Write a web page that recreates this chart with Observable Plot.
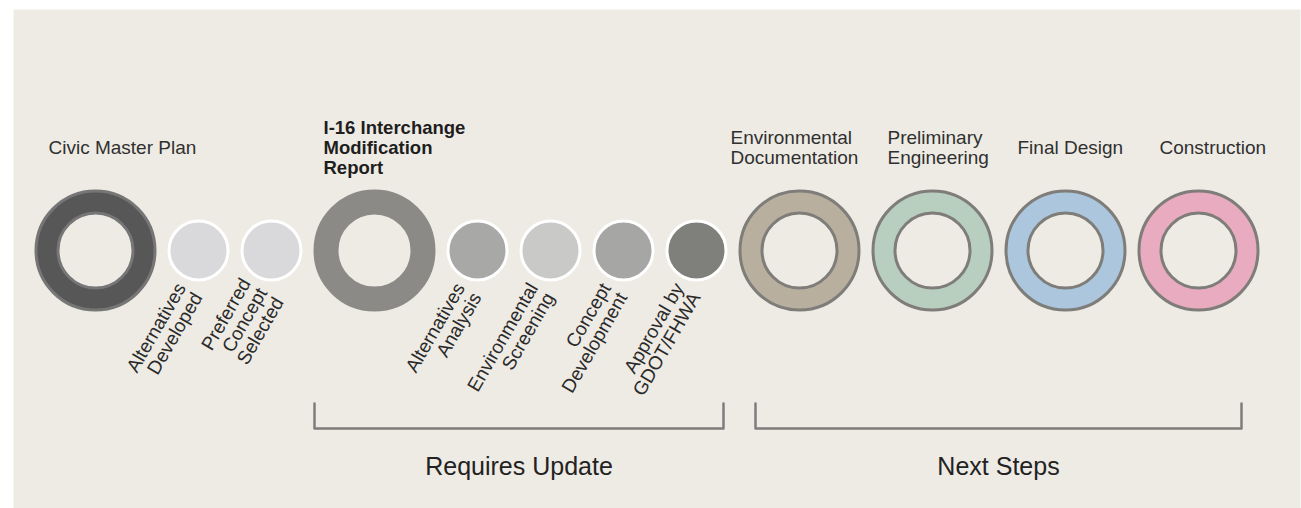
<!DOCTYPE html>
<html>
<head>
<meta charset="utf-8">
<script src="https://cdn.jsdelivr.net/npm/d3@7"></script>
<script src="https://cdn.jsdelivr.net/npm/@observablehq/plot@0.6"></script>
<style>
  html, body { margin: 0; padding: 0; background: #ffffff; }
  #chart svg { display: block; }
</style>
</head>
<body>
<div id="chart"></div>
<script>
// ---------------- DATA ----------------
const stages = [
  "Civic Master Plan",
  "Alternatives Developed",
  "Preferred Concept Selected",
  "I-16 Interchange Modification Report",
  "Alternatives Analysis",
  "Environmental Screening",
  "Concept Development",
  "Approval by GDOT/FHWA",
  "Environmental Documentation",
  "Preliminary Engineering",
  "Final Design",
  "Construction"
];
// label text as printed (line breaks as in the graphic)
const stageLabels = [
  "Civic Master Plan",
  "Alternatives\nDeveloped",
  "Preferred\nConcept\nSelected",
  "I-16 Interchange\nModification\nReport",
  "Alternatives\nAnalysis",
  "Environmental\nScreening",
  "Concept\nDevelopment",
  "Approval by\nGDOT/FHWA",
  "Environmental\nDocumentation",
  "Preliminary\nEngineering",
  "Final Design",
  "Construction"
];
// milestone = large ring, step = small disc
const stageKinds = ["milestone", "step", "step", "milestone", "step", "step", "step", "step",
                    "milestone", "milestone", "milestone", "milestone"];
const groups = ["Requires Update", "Next Steps"];
const groupFirstStage = ["I-16 Interchange Modification Report", "Environmental Documentation"];
const groupLastStage = ["Approval by GDOT/FHWA", "Construction"];

// ---------------- STYLE / LAYOUT ----------------
const W = 1301, H = 508;
const PANEL = "#eeebe4";
const stageFill = ["#575757", "#d9d9db", "#d9d9db", "#8b8a86", "#a8a8a6", "#c9c9c7", "#a6a6a4", "#7f7f7b",
                   "#b8af9f", "#b8cfbf", "#abc6dd", "#e9abbf"];
const stageEdge = ["#767676", "#ffffff", "#ffffff", "#8b8a86", "#ffffff", "#ffffff", "#ffffff", "#ffffff",
                   "#7e7d79", "#7e7d79", "#7e7d79", "#7e7d79"];
const RADIUS = {milestone: 61, step: 31};
const HOLE = 0.615;          // inner hole relative to ring radius
const GAP = 11;              // space between neighbouring shapes
const START = 34;            // left edge of the first shape
const CY = 250;              // row of shapes
const TOP_LABEL_Y = 147;
const ROT_LABEL_Y = 289;
const topLabelShift = {      // left edge of the heading relative to the ring centre
  "Civic Master Plan": -47,
  "I-16 Interchange Modification Report": -51,
  "Environmental Documentation": -69,
  "Preliminary Engineering": -45,
  "Final Design": -48,
  "Construction": -39
};
const bracketInset = [[1, 4], [17, 18]];
const BR_TOP = 403, BR_BOT = 428, GROUP_LABEL_Y = 466;

// layout: accumulate shapes left to right
let cursor = START;
const nodes = stages.map((name, i) => {
  const kind = stageKinds[i];
  const r = RADIUS[kind];
  const cx = cursor + r;
  cursor += 2 * r + GAP;
  return {name, label: stageLabels[i], kind, r, cx, cy: CY, fill: stageFill[i], edge: stageEdge[i]};
});
const byName = new Map(nodes.map(n => [n.name, n]));
const rings = nodes.filter(n => n.kind === "milestone");
const steps = nodes.filter(n => n.kind === "step");

const bracketPts = [];
const groupLabels = [];
groups.forEach((g, gi) => {
  const a = byName.get(groupFirstStage[gi]), b = byName.get(groupLastStage[gi]);
  const left = a.cx - a.r + bracketInset[gi][0];
  const right = b.cx + b.r - bracketInset[gi][1];
  bracketPts.push({g, x: left, y: BR_TOP}, {g, x: left, y: BR_BOT}, {g, x: right, y: BR_BOT}, {g, x: right, y: BR_TOP});
  groupLabels.push({g, x: (left + right) / 2, y: GROUP_LABEL_Y});
});

const FONT = "'Liberation Sans', Arial, Helvetica, sans-serif";

const chart = Plot.plot({
  width: W,
  height: H,
  margin: 0,
  x: {domain: [0, W], range: [0, W], axis: null},
  y: {domain: [0, H], range: [0, H], axis: null},
  r: {type: "identity"},
  style: {fontFamily: FONT, background: "#ffffff"},
  marks: [
    Plot.frame({fill: PANEL, stroke: null, insetTop: 9, insetLeft: 13, insetRight: 1}),
    // large rings
    Plot.dot(rings, {x: "cx", y: "cy", r: d => d.r - 1.5, fill: "fill", stroke: "edge", strokeWidth: 3}),
    Plot.dot(rings, {x: "cx", y: "cy", r: d => d.r * HOLE, fill: PANEL, stroke: "edge", strokeWidth: 3}),
    // small discs
    Plot.dot(steps, {x: "cx", y: "cy", r: d => d.r - 1.5, fill: "fill", stroke: "edge", strokeWidth: 3}),
    // headings above rings
    Plot.text(rings.filter(d => !d.name.startsWith("I-16")), {
      x: d => d.cx + topLabelShift[d.name], y: () => TOP_LABEL_Y, text: "label",
      textAnchor: "start", lineAnchor: "middle", lineHeight: 1.05,
      fontSize: 19, fill: "#303030"
    }),
    Plot.text(rings.filter(d => d.name.startsWith("I-16")), {
      x: d => d.cx + topLabelShift[d.name], y: () => TOP_LABEL_Y, text: "label",
      textAnchor: "start", lineAnchor: "middle", lineHeight: 1.08,
      fontSize: 18.5, fontWeight: "bold", fill: "#1e1e1e"
    }),
    // rotated step labels
    Plot.text(steps, {
      x: d => d.cx - 9, y: () => ROT_LABEL_Y, text: "label",
      rotate: -60, textAnchor: "end", lineAnchor: "middle", lineHeight: 1.0,
      fontSize: 19, fill: "#2a2a2a"
    }),
    // brackets
    Plot.line(bracketPts, {x: "x", y: "y", z: "g", stroke: "#7d7d7b", strokeWidth: 2.5, curve: "linear"}),
    Plot.text(groupLabels, {
      x: "x", y: "y", text: "g", textAnchor: "middle", lineAnchor: "middle",
      fontSize: 25, fill: "#222222"
    })
  ]
});
document.getElementById("chart").appendChild(chart);
</script>
</body>
</html>
